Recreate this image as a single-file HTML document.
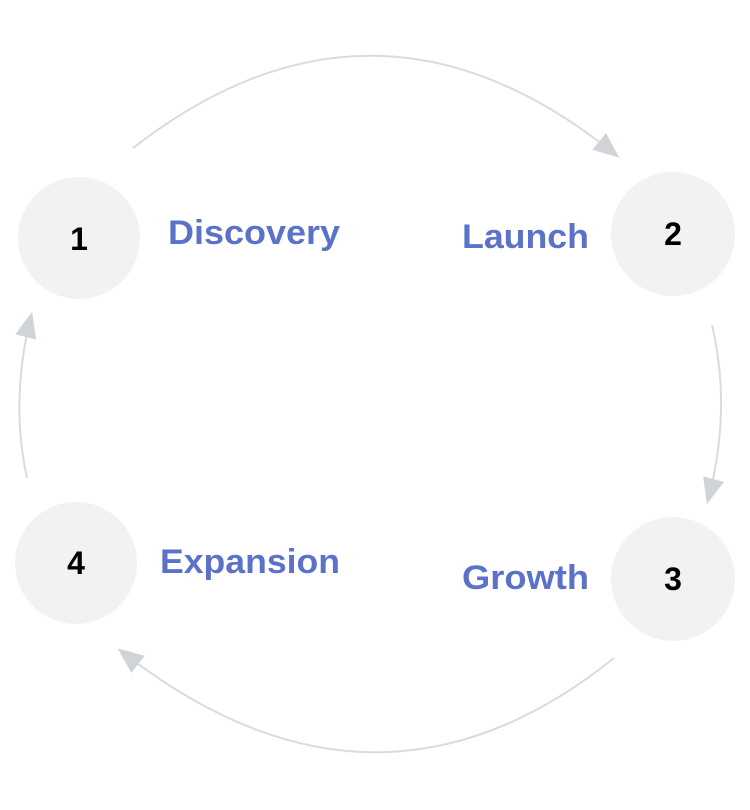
<!DOCTYPE html>
<html><head><style>
body{margin:0;background:#fff;}
svg{display:block}
.l{font-family:"Liberation Sans",sans-serif;font-weight:bold;fill:#5b72c8;font-size:34px}
.n{font-family:"Liberation Sans",sans-serif;font-weight:bold;fill:#000;font-size:32px}
</style></head><body>
<svg width="750" height="810" viewBox="0 0 750 810">
<defs>
<marker id="m" viewBox="0 0 24 24" refX="20" refY="12" markerWidth="26" markerHeight="26" markerUnits="userSpaceOnUse" orient="auto"><path d="M0,2 L24,12 L0,22 Z" fill="#d0d3d8"/></marker></defs>
<g fill="none" stroke="#d9dbdf" stroke-width="2">
<path d="M133,148 Q375,-40 616,155" marker-end="url(#m)"/>
<path d="M712,325 Q732,410 708,500" marker-end="url(#m)"/>
<path d="M614,658 Q375,850 121,651" marker-end="url(#m)"/>
<path d="M27,478 Q10,400 31,316" marker-end="url(#m)"/>
</g>
<g fill="#f1f2f3">
<circle cx="79" cy="238" r="61"/>
<circle cx="673" cy="234" r="62"/>
<circle cx="673" cy="579" r="62"/>
<circle cx="76" cy="563" r="61"/>
</g>
<text class="n" x="79" y="250" text-anchor="middle">1</text>
<text class="n" x="673" y="245" text-anchor="middle">2</text>
<text class="n" x="673" y="590" text-anchor="middle">3</text>
<text class="n" x="76" y="574" text-anchor="middle">4</text>
<text class="l" x="168" y="244" textLength="172" lengthAdjust="spacingAndGlyphs">Discovery</text>
<text class="l" x="462" y="248" textLength="127" lengthAdjust="spacingAndGlyphs">Launch</text>
<text class="l" x="160" y="573" textLength="180" lengthAdjust="spacingAndGlyphs">Expansion</text>
<text class="l" x="462" y="589" textLength="127" lengthAdjust="spacingAndGlyphs">Growth</text>
</svg>
</body></html>
